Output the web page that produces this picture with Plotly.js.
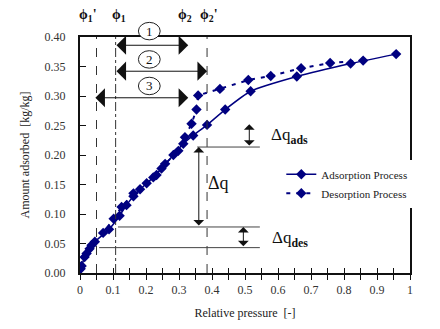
<!DOCTYPE html>
<html>
<head>
<meta charset="utf-8">
<script src="https://cdn.plot.ly/plotly-3.0.1.min.js"></script>
<style>html,body{margin:0;padding:0;background:#fff;}#chart{width:440px;height:329px;}</style>
</head>
<body>
<div id="chart"></div>
<script>
// Adsorption process (relative pressure, amount adsorbed kg/kg)
const adsX = [0.002,0.014,0.029,0.045,0.088,0.120,0.141,0.162,0.202,0.222,0.247,0.283,0.313,0.343,0.385,0.440,0.517,0.657,0.820,0.958];
const adsY = [0.007,0.027,0.041,0.053,0.074,0.097,0.115,0.130,0.152,0.162,0.177,0.200,0.219,0.233,0.251,0.277,0.308,0.333,0.355,0.371];
// Desorption process
const desX = [0.858,0.758,0.670,0.578,0.510,0.424,0.358,0.353,0.338,0.318,0.298,0.258,0.232,0.182,0.162,0.126,0.102,0.070,0.035,0.020,0.005];
const desY = [0.360,0.356,0.347,0.334,0.327,0.312,0.301,0.277,0.253,0.230,0.207,0.185,0.166,0.142,0.135,0.112,0.092,0.068,0.047,0.033,0.012];
const seriesNames = ["Adsorption Process","Desorption Process"];
const xTickVals = [0,0.05,0.1,0.15,0.2,0.25,0.3,0.35,0.4,0.45,0.5,0.55,0.6,0.65,0.7,0.75,0.8,0.85,0.9,0.95,1];
const xTickText = ["0","","0.1","","0.2","","0.3","","0.4","","0.5","","0.6","","0.7","","0.8","","0.9","","1"];
const yTickVals = [0,0.05,0.1,0.15,0.2,0.25,0.3,0.35,0.4];
const yTickText = ["0.00","0.05","0.10","0.15","0.20","0.25","0.30","0.35","0.40"];

const navy = "#000080";
const serif = "Liberation Serif, Times New Roman, serif";
const YMAX = 0.4;

const traces = [
  {x: adsX, y: adsY, name: seriesNames[0], mode: "lines+markers", type: "scatter",
   line: {color: navy, width: 1.5, shape: "spline", smoothing: 0.5},
   marker: {symbol: "diamond", size: 8, color: navy}},
  {x: desX, y: desY, name: seriesNames[1], mode: "lines+markers", type: "scatter",
   line: {color: navy, width: 2, dash: "4px,6px"},
   marker: {symbol: "diamond", size: 8, color: navy}},
  {x: [0], y: [0], xaxis: "x2", mode: "markers", marker: {opacity: 0}, showlegend: false, hoverinfo: "skip"}
];

const vline = (x, dash) => ({type: "line", xref: "x", yref: "y", x0: x, x1: x, y0: 0, y1: YMAX,
  line: {color: "#333", width: 1, dash: dash}, layer: "above"});
const hline = (y, x0, x1) => ({type: "line", xref: "x", yref: "y", x0: x0, x1: x1, y0: y, y1: y,
  line: {color: "#444", width: 1}, layer: "above"});
const circ = (cx, cy) => ({type: "circle", xref: "paper", yref: "paper",
  x0: cx - 0.033, x1: cx + 0.033, y0: cy / YMAX - 0.037, y1: cy / YMAX + 0.037,
  line: {color: "#222", width: 1}, fillcolor: "white", layer: "above"});

const shapes = [
  vline(0.05, "dash"), vline(0.108, "dashdot"), vline(0.385, "dash"),
  hline(0.2135, 0.355, 0.545), hline(0.078, 0.115, 0.545), hline(0.043, 0.058, 0.545),
  circ(0.21, 0.41), circ(0.21, 0.362), circ(0.21, 0.317)
];

const darrow = (x, y, ax, ay, size) => ({x: x, y: y, ax: ax, ay: ay, xref: "x", yref: "y", axref: "x", ayref: "y",
  text: "", showarrow: true, arrowhead: 1, startarrowhead: 1, arrowside: "end+start",
  arrowsize: size, arrowwidth: 1, arrowcolor: "#111", standoff: 0, startstandoff: 0});
const txt = (x, y, t, size, yref) => ({x: x, y: y, xref: "x", yref: yref || "y", text: t, showarrow: false,
  font: {family: serif, size: size, color: "#111"}, xanchor: "center", yanchor: "middle"});

const annotations = [
  darrow(0.328, 0.386, 0.106, 0.386, 3.2),
  darrow(0.385, 0.342, 0.106, 0.342, 3.2),
  darrow(0.328, 0.297, 0.042, 0.297, 3.2),
  darrow(0.513, 0.252, 0.513, 0.2135, 1.8),
  darrow(0.36, 0.2135, 0.36, 0.078, 1.8),
  darrow(0.495, 0.078, 0.495, 0.043, 1.8),
  txt(0.21, 0.41 / YMAX, "1", 13, "paper"),
  txt(0.21, 0.362 / YMAX, "2", 13, "paper"),
  txt(0.21, 0.317 / YMAX, "3", 13, "paper"),
  txt(0.025, 1.093, "<b>ϕ<sub>1</sub>'</b>", 14, "paper"),
  txt(0.117, 1.093, "<b>ϕ<sub>1</sub></b>", 14, "paper"),
  txt(0.318, 1.093, "<b>ϕ<sub>2</sub></b>", 14, "paper"),
  txt(0.39, 1.093, "<b>ϕ<sub>2</sub>'</b>", 14, "paper"),
  txt(0.635, 0.232, "Δq<sub><b>ads</b></sub>", 17),
  txt(0.42, 0.152, "Δq", 18),
  txt(0.635, 0.058, "Δq<sub><b>des</b></sub>", 17)
];

const layout = {
  width: 440, height: 329,
  margin: {l: 80, r: 30, t: 37, b: 56},
  paper_bgcolor: "white", plot_bgcolor: "white",
  font: {family: serif, size: 12, color: "#222"},
  showlegend: true,
  legend: {x: 0.61, y: 0.48, xanchor: "left", yanchor: "top", bgcolor: "white",
           font: {family: serif, size: 11, color: "#222"}, tracegroupgap: 0},
  xaxis: {range: [0, 1], tickvals: xTickVals, ticktext: xTickText, ticks: "outside", ticklen: 5,
          tickcolor: "#111", showline: true, linecolor: "#111", linewidth: 2, mirror: true,
          showgrid: false, zeroline: false, tickfont: {family: serif, size: 12, color: "#333"},
          title: {text: "Relative pressure  [-]", font: {family: serif, size: 12, color: "#222"}, standoff: 12}},
  xaxis2: {range: [0, 1], overlaying: "x", anchor: "y", side: "bottom", tickvals: xTickVals,
           ticks: "inside", ticklen: 5, tickcolor: "#111", showticklabels: false,
           showline: false, showgrid: false, zeroline: false},
  yaxis: {range: [0, YMAX], tickvals: yTickVals, ticktext: yTickText, ticks: "inside", ticklen: 6,
          tickcolor: "#111", showline: true, linecolor: "#111", linewidth: 2, mirror: true,
          showgrid: false, zeroline: false, ticklabelstandoff: 10,
          tickfont: {family: serif, size: 12, color: "#333"},
          title: {text: "Amount adsorbed  [kg/kg]", font: {family: serif, size: 12, color: "#222"}, standoff: 12}},
  shapes: shapes,
  annotations: annotations
};

Plotly.newPlot("chart", traces, layout, {displayModeBar: false, staticPlot: true});
</script>
</body>
</html>
